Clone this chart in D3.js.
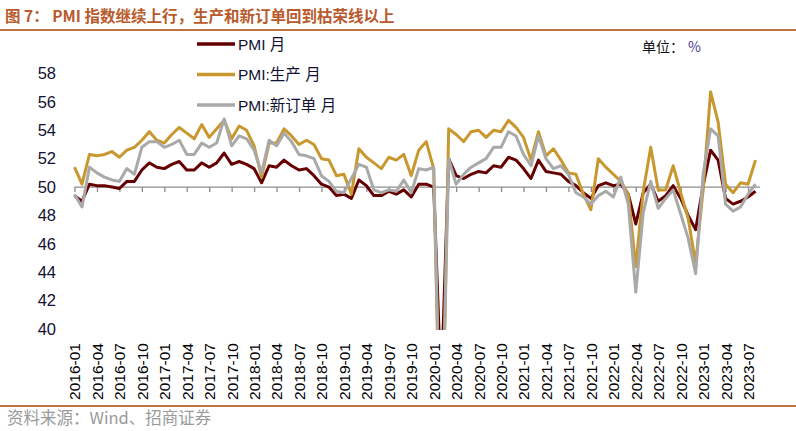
<!DOCTYPE html>
<html><head><meta charset="utf-8">
<script src="https://cdn.jsdelivr.net/npm/d3@7/dist/d3.min.js"></script>
<style>
html,body{margin:0;padding:0;background:#fff;}
svg{display:block;}
</style></head>
<body>
<script>
// ---- data ----
const months = [];
for (let y = 2016; y <= 2023; y++) for (let m = 1; m <= 12; m++) {
  if (y === 2023 && m > 8) break;
  months.push(y + "-" + String(m).padStart(2, "0"));
}
const pmi = [
 49.4,49.0,50.2,50.1,50.1,50.0,49.9,50.4,50.4,51.2,51.7,51.4,
 51.3,51.6,51.8,51.2,51.2,51.7,51.4,51.7,52.4,51.6,51.8,51.6,
 51.3,50.3,51.5,51.4,51.9,51.5,51.2,51.3,50.8,50.2,50.0,49.4,
 49.5,49.2,50.5,50.1,49.4,49.4,49.7,49.5,49.8,49.3,50.2,50.2,
 50.0,35.7,52.0,50.8,50.6,50.9,51.1,51.0,51.5,51.4,52.1,51.9,
 51.3,50.6,51.9,51.1,51.0,50.9,50.4,50.1,49.6,49.2,50.1,50.3,
 50.1,50.2,49.5,47.4,49.6,50.2,49.0,49.4,50.1,49.2,48.0,47.0,
 50.1,52.6,51.9,49.2,48.8,49.0,49.3,49.7];
const production = [
 51.4,50.2,52.3,52.2,52.3,52.5,52.1,52.6,52.8,53.3,53.9,53.3,
 53.1,53.7,54.2,53.8,53.4,54.4,53.5,54.1,54.7,53.4,54.3,54.0,
 52.9,50.7,53.1,53.1,54.1,53.6,53.0,53.3,53.0,52.0,51.9,50.8,
 50.9,49.5,52.7,52.1,51.7,51.3,52.1,51.9,52.3,50.8,52.6,53.2,
 51.3,27.8,54.1,53.7,53.2,53.9,54.0,53.5,54.0,53.9,54.7,54.2,
 53.5,51.9,53.9,52.2,52.7,51.9,51.0,50.9,49.5,48.4,52.0,51.4,
 50.9,50.4,49.5,44.4,49.7,52.8,49.8,49.8,51.5,49.6,47.8,44.6,
 49.8,56.7,54.6,50.2,49.6,50.3,50.2,51.9];
const newOrders = [
 49.5,48.6,51.4,51.0,50.7,50.5,50.4,51.3,50.9,52.8,53.2,53.2,
 52.8,53.0,53.3,52.3,52.3,53.1,52.8,53.1,54.8,52.9,53.6,53.4,
 52.6,51.0,53.3,52.9,53.8,53.2,52.3,52.2,52.0,50.8,50.4,49.7,
 49.6,50.6,51.6,51.4,49.8,49.6,49.8,49.7,50.5,49.6,51.3,51.2,
 51.4,29.3,52.0,50.2,50.9,51.4,51.7,52.0,52.8,52.8,53.9,53.6,
 52.3,51.5,53.6,52.0,51.3,51.5,50.9,49.6,49.3,48.8,49.4,49.7,
 49.3,50.7,48.8,42.6,48.2,50.4,48.5,49.2,49.8,48.1,46.4,43.9,
 50.9,54.1,53.6,48.8,48.3,48.6,49.5,50.2];
const yTicks = [40,42,44,46,48,50,52,54,56,58];
const seriesNames = ["PMI 月", "PMI:生产 月", "PMI:新订单 月"];
const titleText = "图 7： PMI 指数继续上行，生产和新订单回到枯荣线以上";
const sourceText = "资料来源：Wind、招商证券";
const unitText = "单位：";

// ---- drawing ----
const W = 796, H = 431;
const svg = d3.select("body").append("svg").attr("width", W).attr("height", H);
const accent = "#c0714a";
const colors = ["#660000", "#c8982f", "#a9a9a9"];
const seriesData = [pmi, production, newOrders];

// title and frame lines
svg.append("text").attr("x", 5).attr("y", 22)
  .attr("font-family", "'Noto Sans CJK SC', sans-serif").attr("font-weight", "bold")
  .attr("font-size", 15.5).attr("fill", "#b85a2c").text(titleText);
svg.append("rect").attr("x", 0).attr("y", 29).attr("width", W).attr("height", 2).attr("fill", accent);
svg.append("rect").attr("x", 0).attr("y", 405).attr("width", W).attr("height", 2).attr("fill", accent);
svg.append("text").attr("x", 7).attr("y", 424)
  .attr("font-family", "'Noto Sans CJK SC', sans-serif")
  .attr("font-size", 16.5).attr("fill", "#9a9a9a").text(sourceText);

const x = d3.scalePoint().domain(months).range([74.5, 755.5]);
const y = d3.scaleLinear().domain([40, 58]).range([329, 73.5]);

// y labels
const yAxis = svg.append("g").attr("transform", "translate(56,0)")
  .call(d3.axisLeft(y).tickValues(yTicks).tickSize(0).tickPadding(0).tickFormat(d3.format("d")));
yAxis.select(".domain").remove();
yAxis.selectAll("text").attr("font-family", "Arial, 'Liberation Sans', sans-serif")
  .attr("font-size", 16.5).attr("fill", "#111133");

// x axis line at 50 with ticks
const tickMonths = months.filter((d, i) => i % 3 === 0);
const xAxis = svg.append("g").attr("transform", `translate(0,${y(50)})`)
  .call(d3.axisBottom(x).tickValues(tickMonths).tickSize(5).tickFormat(""));
xAxis.select(".domain").attr("d", `M74.5,0H760`).attr("stroke", "#8c8c8c").attr("stroke-width", 1.3);
xAxis.selectAll(".tick line").attr("stroke", "#8c8c8c").attr("stroke-width", 1.3);

// x labels at bottom
const xLab = svg.append("g").attr("transform", "translate(0,343)")
  .call(d3.axisBottom(x).tickValues(tickMonths).tickSize(0));
xLab.select(".domain").remove();
xLab.selectAll("text")
  .attr("font-family", "Arial, 'Liberation Sans', sans-serif").attr("font-size", 15.5)
  .attr("fill", "#000").attr("text-anchor", "end").attr("dy", "0.35em")
  .attr("transform", "rotate(-90)").attr("x", 0).attr("y", 0);

// clip
svg.append("clipPath").attr("id", "clip").append("rect")
  .attr("x", 60).attr("y", 40).attr("width", 720).attr("height", 330 - 40);

const line = d3.line().x((d, i) => x(months[i])).y(d => y(d));
const plotG = svg.append("g").attr("clip-path", "url(#clip)");
[0, 1, 2].forEach(k => {
  plotG.append("path").datum(seriesData[k]).attr("d", line)
    .attr("fill", "none").attr("stroke", colors[k]).attr("stroke-width", 3)
    .attr("stroke-linejoin", "round");
});

// legend
const legY = [44, 74.5, 105];
seriesNames.forEach((n, i) => {
  svg.append("line").attr("x1", 197).attr("x2", 235).attr("y1", legY[i]).attr("y2", legY[i])
    .attr("stroke", colors[i]).attr("stroke-width", 3.5);
  svg.append("text").attr("x", 238).attr("y", legY[i]).attr("dy", "0.36em")
    .attr("font-family", "Arial, 'Noto Sans CJK SC', sans-serif").attr("font-size", 15.5)
    .attr("fill", "#111133").text(n);
});

// unit
const u = svg.append("text").attr("x", 642).attr("y", 52)
  .attr("font-family", "'Noto Sans CJK SC', sans-serif").attr("font-size", 14).attr("fill", "#111");
u.append("tspan").text(unitText);
u.append("tspan").attr("dx", 4).attr("fill", "#4a3a9a").text("%");
</script>
</body></html>
